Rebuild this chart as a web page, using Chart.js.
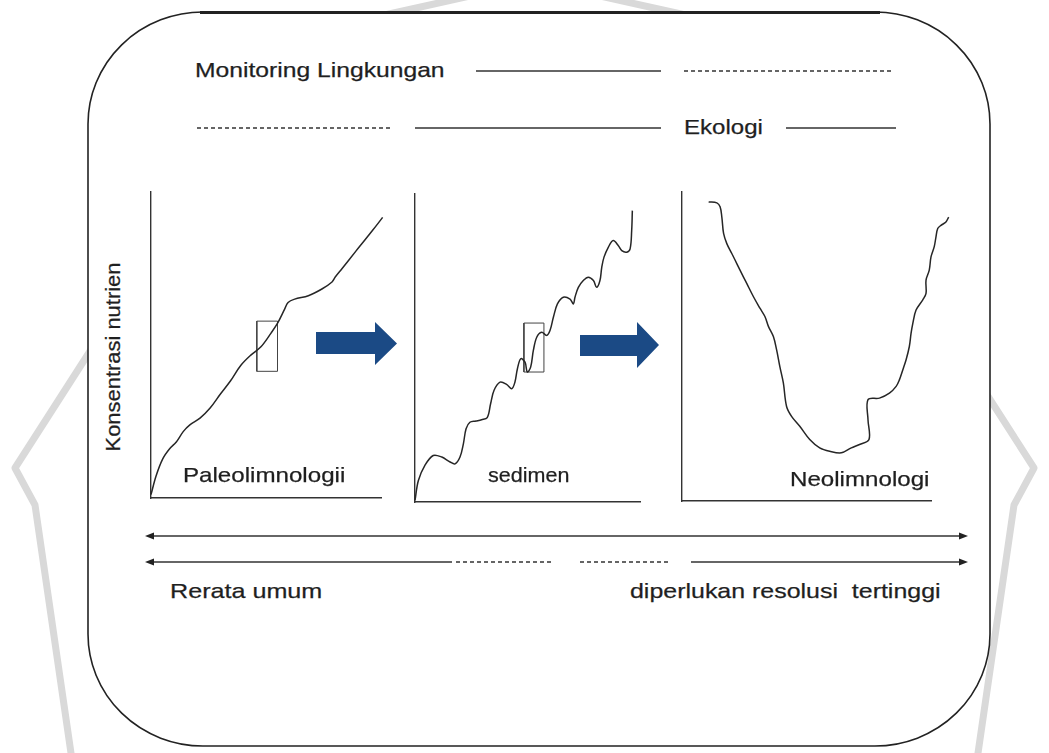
<!DOCTYPE html>
<html>
<head>
<meta charset="utf-8">
<script src="https://cdn.jsdelivr.net/npm/chart.js@4.4.1/dist/chart.umd.min.js"></script>
<style>
  html, body { margin: 0; padding: 0; background: #fff; }
  #stage { position: relative; width: 1049px; height: 753px; overflow: hidden; background: #fff; }
  #deco { position: absolute; left: 0; top: 0; }
  canvas { position: absolute; }
  .lbl { position: absolute; font-family: "Liberation Sans", Arial, sans-serif; font-size: 21px; line-height: 24px;
         color: #1f1f1f; white-space: nowrap; transform-origin: 0 50%; -webkit-text-stroke: 0.25px #1f1f1f; }
  #ylbl { transform-origin: 50% 50%; }
</style>
</head>
<body>
<div id="stage">
  <svg id="deco" width="1049" height="753" viewBox="0 0 1049 753">
    <!-- faint watermark behind the frame -->
    <g stroke="#d9d9d9" stroke-width="7" fill="none" stroke-linejoin="round">
      <polyline points="110,320 15,468 35,505 72,760"/>
      <polyline points="939,320 1034,468 1014,505 977,760"/>
      <polyline points="380,16 470,-4"/>
      <polyline points="600,-4 690,16"/>
    </g>
    <rect x="88" y="12" width="902" height="734" rx="115" ry="112" fill="#fff" stroke="#222" stroke-width="1.6"/>
    <line x1="200" y1="12.5" x2="880" y2="12.5" stroke="#222" stroke-width="3"/>

    <g stroke="#333" stroke-width="1.5" fill="none">
      <line x1="476" y1="71" x2="661" y2="71"/>
      <line x1="684" y1="71" x2="893" y2="71" stroke-dasharray="4 3"/>
      <line x1="197" y1="128" x2="393" y2="128" stroke-dasharray="4 3"/>
      <line x1="415" y1="128" x2="661" y2="128"/>
      <line x1="786" y1="128" x2="896" y2="128"/>

      <line x1="150" y1="536" x2="963" y2="536"/>
      <line x1="150" y1="562" x2="452" y2="562"/>
      <line x1="456" y1="562" x2="553" y2="562" stroke-dasharray="4 3"/>
      <line x1="580" y1="562" x2="671" y2="562" stroke-dasharray="4 3"/>
      <line x1="691" y1="562" x2="963" y2="562"/>
    </g>
    <g fill="#222">
      <polygon points="145,536 154,532.5 154,539.5"/>
      <polygon points="968,536 959,532.5 959,539.5"/>
      <polygon points="145,562 154,558.5 154,565.5"/>
      <polygon points="968,562 959,558.5 959,565.5"/>
    </g>
    <g fill="#1b4a85">
      <polygon points="316,332 375,332 375,322 397,343.5 375,365 375,354 316,354"/>
      <polygon points="580,335 637,335 637,322 659,345 637,368 637,356 580,356"/>
    </g>
  </svg>

  <canvas id="c1"></canvas>
  <canvas id="c2"></canvas>
  <canvas id="c3"></canvas>

  <div class="lbl" data-x="195" data-y="70" data-w="249">Monitoring Lingkungan</div>
  <div class="lbl" data-x="684" data-y="127" data-w="79">Ekologi</div>
  <div class="lbl" data-x="183" data-y="475" data-w="162">Paleolimnologii</div>
  <div class="lbl" data-x="488" data-y="475" data-w="81">sedimen</div>
  <div class="lbl" data-x="790" data-y="479" data-w="139">Neolimnologi</div>
  <div class="lbl" data-x="170" data-y="591" data-w="152">Rerata umum</div>
  <div class="lbl" data-x="630" data-y="591" data-w="310">diperlukan resolusi&nbsp; tertinggi</div>
  <div class="lbl" id="ylbl" data-cx="113" data-cy="357" data-w="189">Konsentrasi nutrien</div>
</div>

<script>
// nilai, skala 0-100 terhadap panjang sumbu
const paleoX = [0, 2.2, 5.1, 8.1, 11.0, 14.0, 16.9, 21.3, 25.7, 30.1, 34.6, 39.0, 43.4, 47.8, 52.2, 55.1, 58.1, 59.6, 62.5, 68.4, 74.3, 78.7, 80.1, 83.1, 89.0, 94.9, 100.7, 105.9];
const paleoY = [1.1, 7.2, 12.8, 16.1, 18.3, 21.7, 23.9, 26.1, 29.4, 33.9, 38.3, 43.3, 46.7, 49.4, 53.9, 57.2, 61.7, 63.9, 65.0, 66.1, 68.3, 70.6, 72.2, 75.0, 80.6, 86.1, 91.7, 97.4];
const paleoBoxX = [46, 55, 55, 46, 46];
const paleoBoxY = [41.4, 41.4, 57.8, 57.8, 41.4];

const sedX = [0, 1.5, 4.4, 8.1, 11.9, 15.6, 17.8, 20.0, 21.5, 22.7, 24.4, 27.1, 29.6, 32.1, 33.6, 35.1, 37.8, 40.7, 43.0, 44.4, 45.5, 47.0, 48.9, 49.9, 51.4, 52.6, 54.1, 56.3, 58.5, 60.0, 61.5, 63.3, 65.9, 68.9, 70.4, 71.1, 72.6, 74.8, 77.0, 79.3, 80.7, 82.2, 83.0, 84.0, 85.9, 88.1, 90.4, 91.9, 94.1, 95.6, 96.3, 96.6];
const sedY = [0.5, 7.0, 11.9, 15.1, 14.6, 13.0, 12.4, 14.6, 18.9, 23.8, 25.9, 26.3, 26.7, 27.4, 31.9, 36.2, 38.9, 38.2, 36.8, 38.9, 43.2, 46.5, 45.4, 42.2, 43.8, 49.2, 53.5, 55.1, 54.1, 55.7, 60.0, 64.3, 66.5, 65.9, 64.3, 66.5, 69.7, 71.9, 73.0, 71.9, 69.7, 71.9, 76.2, 79.5, 82.7, 84.9, 83.2, 81.6, 81.1, 82.2, 88.1, 94.6];
const sedBoxX = [48.4, 57.3, 57.3, 48.4, 48.4];
const sedBoxY = [42.2, 42.2, 58.1, 58.1, 42.2];

const neoX = [10.7, 14.0, 15.3, 16.0, 16.7, 18.0, 20.0, 21.3, 23.3, 26.0, 28.7, 31.3, 33.3, 34.7, 36.7, 38.0, 39.3, 40.7, 42.0, 44.0, 47.3, 51.3, 55.3, 59.3, 64.0, 68.0, 71.3, 75.1, 74.7, 74.7, 79.3, 83.3, 86.0, 87.3, 88.7, 90.0, 91.3, 92.0, 92.7, 94.0, 96.7, 98.0, 98.0, 99.3, 100.0, 101.3, 102.0, 102.7, 104.0, 106.0, 107.1];
const neoY = [96.8, 96.5, 95.2, 91.9, 86.6, 83.3, 80.1, 78.0, 74.7, 70.4, 66.1, 62.4, 59.7, 56.5, 53.2, 48.9, 43.5, 38.2, 30.6, 27.4, 24.2, 19.9, 17.2, 16.1, 15.6, 17.2, 18.3, 19.9, 26.3, 32.8, 33.3, 34.9, 37.1, 39.2, 42.5, 45.7, 50.0, 54.3, 57.5, 61.8, 65.1, 67.2, 71.5, 74.7, 79.0, 82.3, 85.5, 88.2, 89.2, 90.3, 91.9];

const PAD = 25;

function zip(xs, ys) {
  return xs.map((x, i) => ({ x: x, y: ys[i] }));
}

function makeChart(id, area, xs, ys, boxX, boxY) {
  const el = document.getElementById(id);
  el.width = area.r - area.l + PAD * 2;
  el.height = area.b - area.t + PAD * 2;
  el.style.left = (area.l - PAD) + 'px';
  el.style.top = (area.t - PAD) + 'px';

  const datasets = [{
    data: zip(xs, ys), showLine: true, borderColor: '#262626', borderWidth: 1.5,
    pointRadius: 0, tension: 0.35, clip: false
  }];
  if (boxX) {
    datasets.push({
      data: zip(boxX, boxY), showLine: true, borderColor: '#444', borderWidth: 1,
      pointRadius: 0, tension: 0, clip: false
    });
  }

  const axis = {
    type: 'linear', min: 0, max: 100,
    ticks: { display: false },
    grid: { display: false, drawTicks: false },
    border: { display: true, color: '#333', width: 1.4 }
  };

  return new Chart(el, {
    type: 'scatter',
    data: { datasets: datasets },
    options: {
      responsive: false,
      animation: false,
      events: [],
      layout: { padding: PAD, autoPadding: false },
      plugins: { legend: { display: false }, tooltip: { enabled: false } },
      scales: { x: Object.assign({}, axis), y: Object.assign({}, axis) }
    }
  });
}

makeChart('c1', { l: 151, t: 192, r: 381, b: 498 }, paleoX, paleoY, paleoBoxX, paleoBoxY);
makeChart('c2', { l: 415, t: 194, r: 640, b: 502 }, sedX, sedY, sedBoxX, sedBoxY);
makeChart('c3', { l: 682, t: 192, r: 931, b: 501 }, neoX, neoY);

// label: lebar teks disesuaikan dengan gambar asli
document.querySelectorAll('.lbl').forEach(function (d) {
  const w = d.offsetWidth;
  const k = parseFloat(d.dataset.w) / w;
  if (d.id === 'ylbl') {
    d.style.left = (parseFloat(d.dataset.cx) - w / 2) + 'px';
    d.style.top = (parseFloat(d.dataset.cy) - 12) + 'px';
    d.style.transform = 'rotate(-90deg) scaleX(' + k + ')';
  } else {
    d.style.left = d.dataset.x + 'px';
    d.style.top = (parseFloat(d.dataset.y) - 12) + 'px';
    d.style.transform = 'scaleX(' + k + ')';
  }
});
</script>
</body>
</html>
